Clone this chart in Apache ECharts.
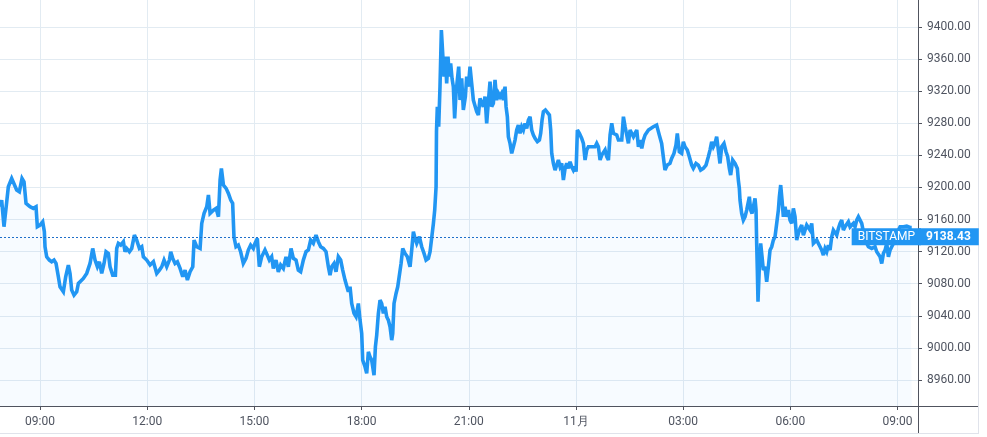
<!DOCTYPE html>
<html>
<head>
<meta charset="utf-8">
<script src="https://cdn.jsdelivr.net/npm/echarts@6/dist/echarts.min.js"></script>
<style>
html,body{margin:0;padding:0;background:#fff;}
#chart{width:987px;height:437px;}
</style>
</head>
<body>
<div id="chart"></div>
<script>
// Time: minutes since 00:00 of 30 Oct (1440 = 31 Oct 00:00 -> "11月" label position in source)
const timeMin = [
472.8,475.6,479.5,482.9,486.8,492.4,495.2,500.8,505.3,509.8,
513.1,516.5,523.2,528.8,533.3,535.5,540.0,544.5,547.3,548.4,
551.2,555.7,559.6,563.5,566.9,570.8,573.6,579.2,583.1,587.6,
590.4,593.2,597.1,601.6,604.4,607.2,612.8,618.4,624.0,628.5,
632.4,636.3,639.7,643.6,647.5,650.9,654.8,657.6,662.1,666.6,
668.8,671.6,675.5,680.0,682.8,685.6,690.1,694.0,698.5,702.4,
706.9,710.8,713.6,719.2,724.8,730.4,736.0,740.5,744.4,748.3,
752.8,757.3,759.5,762.9,766.8,770.7,775.2,779.7,783.6,787.5,
792.0,796.5,798.7,803.2,808.8,811.6,815.5,820.0,822.8,825.6,
831.2,835.7,839.6,842.4,844.6,848.0,852.5,856.4,860.3,
863.5,865.7,869.1,873.0,876.9,881.4,885.9,889.8,893.7,898.2,
901.0,904.9,908.3,912.2,917.8,921.7,925.1,929.0,931.8,936.3,
940.2,944.1,948.6,953.1,957.0,961.5,965.4,969.9,973.8,977.7,
982.2,986.7,990.6,994.5,999.0,1003.5,1007.4,1011.3,1015.8,1020.3,
1024.2,1027.0,1029.8,1033.7,1037.1,1041.0,1044.9,1048.3,1052.2,1055.0,
1057.8,1060.6,1063.4,1067.3,1070.7,1074.6,1077.4,1080.2,1081.9,1085.8,
1088.6,1091.4,1094.2,1097.0,1100.9,1103.2,1105.4,1108.2,1111.0,1113.8,
1116.6,1119.4,1122.2,1125.0,1127.8,1130.6,1132.3,1134.5,1137.9,1140.7,
1143.5,1146.3,1149.1,1153.0,1156.9,1161.4,1164.2,1167.0,1169.8,1172.6,
1177.1,1181.0,1184.9,1188.3,1192.2,1195.0,1197.8,1200.6,1202.8,1205.1,
1205.8,
1207.2,1209.5,1211.7,1214.0,1216.2,1218.4,1220.7,1222.9,1225.1,1227.4,
1229.6,1231.9,1234.1,1236.3,1238.6,1240.8,1243.1,1245.3,1248.1,1250.9,
1254.3,1256.5,1259.3,1262.1,1264.9,1267.7,1270.5,1273.3,1276.1,1278.9,
1281.7,1284.5,1287.3,1290.1,1292.9,1295.7,1298.5,1301.3,1304.1,1306.9,
1309.7,1312.5,1315.3,1318.1,1320.9,1322.6,1324.8,1326.5,1329.3,1332.1,
1334.9,1337.7,1340.5,1343.3,1346.1,1348.9,1351.7,1354.5,1357.3,1360.1,
1362.9,1365.7,1368.5,1371.3,1375.2,1378.6,1380.8,1383.1,1385.3,1388.7,
1392.0,1395.4,1397.6,1399.3,1402.1,1404.9,1407.7,1410.5,1413.3,1416.1,
1418.9,1421.7,1424.5,1427.3,1430.1,1432.9,1435.7,1438.5,1440.2,1442.4,
1445.8,1449.7,1452.5,1455.3,1458.1,1460.9,1463.7,1466.5,1469.3,1472.1,
1474.9,1477.7,1480.5,1483.3,1486.1,1488.9,1491.7,1494.5,1497.3,1500.1,
1502.9,1505.7,1508.5,1511.3,1514.1,1516.9,1519.7,1522.5,1525.3,1528.1,
1530.9,1533.7,1536.5,1539.3,1542.1,1544.9,1547.7,1550.5,1553.3,1556.1,
1558.9,1561.7,
1564.3,1569.9,1575.5,1580.0,1583.9,1586.7,1589.5,1593.4,1597.9,1600.7,
1604.6,1608.0,1610.2,1613.6,1617.5,1620.3,1623.1,1627.0,1630.4,1634.3,
1637.1,1641.6,1645.5,1649.4,1653.9,1658.4,1662.3,1665.1,1667.9,1670.7,
1673.5,1676.3,1679.1,1681.9,1684.7,1688.6,1692.0,1694.8,1697.6,1699.8,
1703.2,1707.1,1711.0,1712.7,1714.4,1715.5,1718.3,1721.1,1723.9,1726.7,
1729.5,1731.2,1733.4,1735.7,1737.9,1740.7,1742.4,1743.5,1744.6,1745.7,
1748.0,1750.2,1752.5,1754.7,1757.5,1760.3,1763.1,1765.9,1768.7,1771.5,
1774.3,1777.1,1779.9,1781.6,1783.8,1786.1,1788.3,1791.1,1793.9,1796.7,
1799.5,1802.3,1805.1,1807.9,1810.7,1813.5,1816.3,1819.1,1821.9,1824.7,
1827.5,1830.3,1833.1,1835.9,1838.7,1841.5,1844.3,1847.1,1849.9,1852.7,
1855.5,1858.3,1861.1,1863.9,1866.7,1869.5,1872.3,1875.1,1877.9,1880.7,
1883.5,1886.3,1889.1,1891.9,1894.7,1897.5,1900.3,1903.1,1905.9,1908.7,
1911.5,1914.3,1917.1,1919.9,1922.7,1925.5,1928.3,1931.1,1933.9,1936.7,
1939.5,1942.3,1945.1,1947.9,1950.7,1953.5,1956.3,1959.1,1961.9,1964.7,
1967.5,1970.3,1973.1,1975.9,1978.7,1981.5,1984.3,1987.1,1989.9,1992.7,
1995.5,1998.3,2001.1,2003.9
];

const price = [
9176.0,9184.3,9151.1,9174.0,9200.9,9211.3,9213.4,9196.8,9194.7,9211.3,
9207.2,9180.2,9176.0,9174.0,9176.0,9151.1,9153.1,9157.3,9144.8,9126.1,
9113.6,9109.5,9107.4,9109.5,9105.3,9088.7,9076.2,9070.0,9088.7,9103.3,
9092.9,9072.1,9065.8,9070.0,9080.4,9078.3,9086.6,9092.9,9105.3,9124.0,
9109.5,9101.2,9107.4,9092.9,9105.3,9119.9,9117.8,9101.2,9090.8,9090.8,
9124.0,9130.3,9128.2,9132.4,9119.9,9124.0,9119.9,9124.0,9140.7,9134.4,
9124.0,9126.1,9113.6,9109.5,9103.3,9107.4,9092.9,9097.0,9101.2,9109.5,
9101.2,9109.5,9119.9,9111.6,9105.3,9107.4,9099.1,9088.7,9097.0,9084.6,
9095.0,9101.2,9134.4,9126.1,9124.0,9155.2,9167.7,9176.0,9190.6,9167.7,
9171.8,9174.0,9163.5,9209.3,9223.8,9203.0,9198.9,9192.6,9184.3,
9180.2,9138.6,9126.1,9128.2,9119.9,9105.3,9111.6,9122.0,9128.2,9124.0,
9130.3,9136.5,9101.2,9113.6,9122.0,9115.7,9109.5,9113.6,9099.1,9109.5,
9094.9,9103.3,9099.1,9113.6,9101.2,9124.0,9111.6,9109.5,9097.0,9094.9,
9109.5,9119.9,9122.0,9134.4,9130.3,9140.7,9132.4,9126.1,9124.0,9119.9,
9101.2,9090.8,9101.2,9105.3,9094.9,9113.6,9109.5,9097.0,9084.6,9086.6,
9070.0,9076.2,9055.4,9043.0,9038.8,9055.4,9034.7,9018.0,8984.8,8976.5,
8968.2,8995.2,8988.9,8984.8,8966.1,9001.4,9016.0,9043.0,9059.6,9055.4,
9043.0,9051.3,9038.8,9034.7,9026.4,9009.7,9018.0,9055.4,9067.9,9076.2,
9076.2,9105.3,9124.0,9117.8,9113.6,9101.2,9122.0,9144.8,9136.5,9130.3,
9138.6,9126.1,9117.8,9109.5,9111.6,9119.9,9117.8,9155.2,9171.8,9200.9,
9270.0,
9300.7,9275.8,9325.7,9396.3,9367.2,9338.1,9363.1,9329.8,9363.1,9338.1,
9354.8,9336.1,9325.7,9286.2,9317.3,9334.0,9350.6,9309.0,9336.1,9296.6,
9313.2,9338.1,9325.7,9350.6,9329.8,9309.0,9307.0,9294.5,9290.3,9311.1,
9304.9,9300.7,9313.2,9279.9,9307.0,9331.9,9300.7,9304.9,9334.0,9309.0,
9317.3,9313.2,9317.3,9309.0,9325.7,9300.7,9288.2,9263.3,9255.0,9242.5,
9250.8,9259.1,9271.6,9277.9,9267.5,9275.8,9271.6,9279.9,9273.7,9284.1,
9288.2,9271.6,9265.4,9261.2,9257.1,9259.1,9267.5,9284.1,9294.5,9296.6,
9298.6,9290.3,9271.6,9242.5,9230.0,9221.7,9219.7,9234.2,9225.9,9230.0,
9209.3,9223.8,9230.0,9223.8,9232.1,9225.9,9221.7,9225.9,9219.7,9271.6,
9267.5,9261.2,9255.0,9234.2,9246.7,9250.8,9248.8,9250.8,9252.9,9250.8,
9255.0,9250.8,9234.2,9240.4,9238.4,9246.7,9238.4,9234.2,9265.4,9279.9,
9267.5,9269.5,9265.4,9259.1,9261.2,9259.1,9288.2,9275.8,9265.4,9255.0,
9271.6,9273.7,9263.3,9267.5,9271.6,9250.8,9259.1,9248.8,9259.1,9265.4,
9267.5,9271.6,
9271.6,9275.7,9277.8,9265.3,9254.9,9238.3,9221.7,9227.9,9230.0,9236.2,
9242.5,9252.9,9267.4,9244.5,9242.5,9257.0,9250.8,9246.6,9238.3,9227.9,
9223.8,9230.0,9227.9,9221.7,9223.8,9227.9,9238.3,9246.6,9257.0,9250.8,
9254.9,9263.2,9246.6,9230.0,9250.8,9254.9,9244.5,9238.3,9223.8,9215.4,
9234.1,9230.0,9223.8,9209.2,9198.8,9184.3,9167.6,9159.3,9163.5,9171.8,
9182.2,9188.4,9171.8,9167.6,9176.0,9186.3,9171.8,9130.2,9097.0,9057.5,
9101.1,9130.2,9113.6,9097.0,9101.1,9082.4,9101.1,9121.9,9126.1,9134.4,
9138.5,9155.2,9171.8,9188.4,9203.0,9184.3,9163.5,9176.0,9163.5,9171.8,
9159.3,9155.2,9173.9,9163.5,9134.4,9142.7,9148.9,9153.1,9140.6,9146.9,
9153.1,9155.2,9146.9,9155.2,9130.2,9132.3,9134.4,9132.3,9126.1,9121.9,
9115.7,9124.0,9119.8,9128.1,9121.9,9138.5,9146.9,9146.9,9140.6,9148.9,
9155.2,9159.3,9146.9,9151.0,9153.1,9157.2,9151.0,9153.1,9155.2,9151.0,
9159.3,9163.5,9159.3,9155.2,9144.8,9134.4,9130.2,9126.1,9128.1,9124.0,
9121.9,9126.1,9119.8,9121.9,9113.6,9105.3,9117.8,9121.9,9130.2,9113.6,
9121.9,9126.1,9130.2,9134.4,9138.5,9146.9,9151.0,9153.1,9151.0,9153.1,
9151.8,9151.0,9150.2,9150.2
];

const xTicks = [540, 720, 900, 1080, 1260, 1440, 1620, 1800, 1980];
const yTicks = [8960, 9000, 9040, 9080, 9120, 9160, 9200, 9240, 9280, 9320, 9360, 9400];
const lastPrice = 9138.43;
const exchange = 'BITSTAMP';
const dayLabel = '11月';

const FONT = 'Roboto, "Noto Sans", sans-serif';
const TEXT = '#4f5460';
const GRID = '#e2ebf2';
const AXIS = '#50535e';
const BLUE = '#2196f3';

const data = timeMin.map((t, i) => [t, price[i]]);

function fmtTime(v) {
  if (v % 1440 === 0) return dayLabel;
  const h = Math.floor(v / 60) % 24;
  return (h < 10 ? '0' : '') + h + ':00';
}

const chart = echarts.init(document.getElementById('chart'), null, {renderer: 'canvas'});
chart.setOption({
  animation: false,
  backgroundColor: '#ffffff',
  textStyle: {fontFamily: FONT},
  grid: {left: 0, right: 69, top: 0, bottom: 31, containLabel: false},
  xAxis: {
    type: 'value', min: 472.8, max: 2014.4,
    axisLine: {show: true, onZero: false, lineStyle: {color: AXIS, width: 1}},
    axisTick: {show: true, customValues: xTicks, length: 4, lineStyle: {color: AXIS}},
    axisLabel: {customValues: xTicks, formatter: fmtTime, color: TEXT, fontSize: 12, margin: 10, fontFamily: FONT},
    splitLine: {show: true, lineStyle: {color: GRID, width: 1}}
  },
  yAxis: {
    type: 'value', position: 'right', min: 8927.6, max: 9433.7,
    axisLine: {show: true, onZero: false, lineStyle: {color: AXIS, width: 1}},
    axisTick: {show: true, customValues: yTicks, length: 4, lineStyle: {color: AXIS}},
    axisLabel: {customValues: yTicks, formatter: v => v.toFixed(2), color: TEXT, fontSize: 12, margin: 9, fontFamily: FONT},
    splitLine: {show: true, lineStyle: {color: GRID, width: 1}}
  },
  series: [{
    type: 'line',
    data: data,
    showSymbol: false,
    symbol: 'none',
    lineStyle: {color: BLUE, width: 3.6, join: 'miter', miterLimit: 3},
    areaStyle: {color: 'rgba(33,150,243,0.05)', origin: 'start'},
    markLine: {
      silent: true,
      symbol: 'none',
      animation: false,
      lineStyle: {color: '#1f6fc9', type: [2, 2], width: 1},
      data: [
        {yAxis: lastPrice, label: {show: true, position: 'end', distance: 1,
          formatter: lastPrice.toFixed(2), color: '#fff', backgroundColor: BLUE,
          fontWeight: 'bold', fontSize: 12, fontFamily: FONT, padding: [3, 8, 2, 7]}},
        {yAxis: lastPrice, label: {show: true, position: 'insideEndTop', distance: [-3, 0],
          verticalAlign: 'middle', formatter: exchange, color: '#fff', backgroundColor: BLUE,
          fontWeight: 'normal', fontSize: 12, fontFamily: FONT, padding: [3, 6, 2, 6]}}
      ]
    }
  }],
  graphic: [
    {type: 'line', silent: true, shape: {x1: 918, y1: 406.5, x2: 978, y2: 406.5}, style: {stroke: AXIS, lineWidth: 1}},
    {type: 'line', silent: true, shape: {x1: 918.5, y1: 406, x2: 918.5, y2: 433}, style: {stroke: AXIS, lineWidth: 1}},
    {type: 'line', silent: true, shape: {x1: 0, y1: 433.5, x2: 978, y2: 433.5}, style: {stroke: '#e0e3eb', lineWidth: 1}},
    {type: 'line', silent: true, shape: {x1: 978.5, y1: 0, x2: 978.5, y2: 434}, style: {stroke: '#e0e3eb', lineWidth: 1}}
  ]
});
</script>
</body>
</html>
